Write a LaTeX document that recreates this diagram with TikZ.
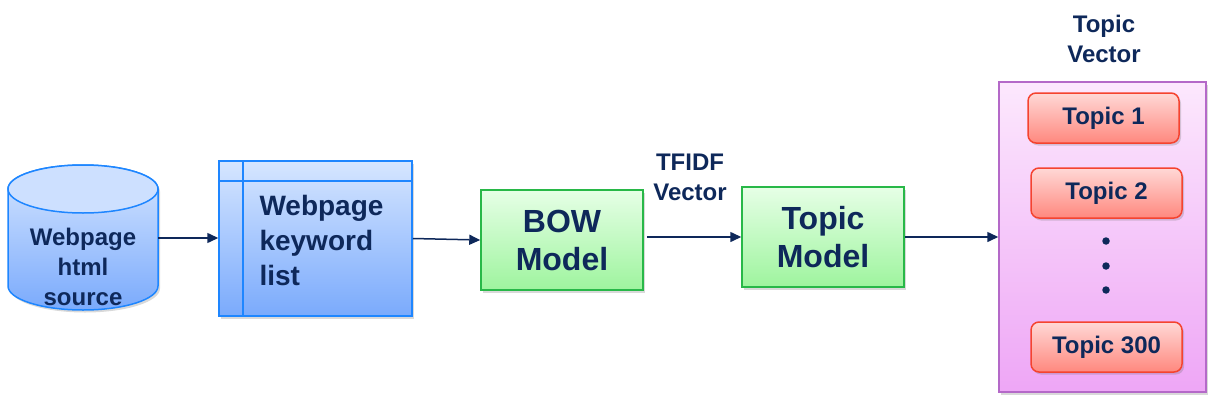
\documentclass[tikz,border=0pt]{standalone}
\usepackage{fontspec}
\setmainfont{Liberation Sans}
\usetikzlibrary{arrows.meta,shadows,calc}
\definecolor{navy}{RGB}{14,40,90}
\definecolor{bluebd}{RGB}{30,134,255}
\definecolor{bluetop}{RGB}{214,230,255}
\definecolor{bluebot}{RGB}{122,170,252}
\definecolor{greenbd}{RGB}{40,184,72}
\definecolor{greentop}{RGB}{230,255,230}
\definecolor{greenbot}{RGB}{158,244,158}
\definecolor{purpbd}{RGB}{180,105,200}
\definecolor{purptop}{RGB}{252,232,253}
\definecolor{purpbot}{RGB}{238,166,246}
\definecolor{redbd}{RGB}{245,67,47}
\definecolor{redtop}{RGB}{255,216,214}
\definecolor{redbot}{RGB}{255,136,126}
\tikzset{
  shad/.style={drop shadow={shadow xshift=2pt,shadow yshift=-2.5pt,opacity=0.25,fill=black!60}},
  txt/.style={text=navy,font=\bfseries\fontsize{24}{30}\selectfont,align=center},
  bluebox/.style={draw=bluebd,line width=1.5pt,top color=bluetop,bottom color=bluebot,shad},
  greenbox/.style={draw=greenbd,line width=1.5pt,top color=greentop,bottom color=greenbot,shad,
     text=navy,font=\bfseries\fontsize{32}{38}\selectfont,align=center},
  purpbox/.style={draw=purpbd,line width=1.5pt,top color=purptop,bottom color=purpbot,shad},
  topicbox/.style={draw=redbd,line width=1.5pt,top color=redtop,bottom color=redbot,rounded corners=8pt,shad,
     minimum width=151pt,minimum height=50pt,inner sep=0pt,text=navy,font=\bfseries\fontsize{24}{30}\selectfont},
  arr/.style={draw=navy,line width=1.5pt,-{Triangle[length=11pt,width=10pt]}},
  dotc/.style={circle,fill=navy,inner sep=0pt,minimum size=7.5pt}
}
\begin{document}
\begin{tikzpicture}[x=1pt,y=-1pt]
\useasboundingbox (0,0) rectangle (1214,404);
% cylinder
\path[bluebox] (8,189) -- (8,286) arc[start angle=180,end angle=0,x radius=75,y radius=24]
   -- (158,189) arc[start angle=0,end angle=-180,x radius=75,y radius=24] -- cycle;
\draw[draw=bluebd,line width=1.5pt,fill=bluetop!90!bluebot] (83,189) ellipse[x radius=75,y radius=24];
\node[minimum width=150pt,minimum height=145pt,inner sep=0pt] (cyl) at (83,238) {};
\node[txt] (cyltext) at (83,267) {Webpage\\html\\source};
% keyword list
\node[bluebox,minimum width=193pt,minimum height=155pt,inner sep=0pt] (kw) at (315.5,238.5) {};
\draw[bluebd,line width=1.5pt] (243,161) -- (243,316);
\draw[bluebd,line width=1.5pt] (219,181) -- (412,181);
\node[text=navy,font=\bfseries\fontsize{28}{35}\selectfont,align=left,anchor=west] (kwtext) at (256,240) {Webpage\\keyword\\list};
% BOW
\node[greenbox,minimum width=162pt,minimum height=100pt,inner sep=0pt] (bow) at (562,240) {BOW\\Model};
% Topic model
\node[greenbox,minimum width=162pt,minimum height=100pt,inner sep=0pt] (tm) at (823,237) {Topic\\Model};
\node[txt] (tfidf) at (690,177) {TFIDF\\Vector};
% Topic vector
\node[purpbox,minimum width=207pt,minimum height=310pt,inner sep=0pt] (vec) at (1102.5,237) {};
\node[txt] (vtitle) at (1104,39) {Topic\\Vector};
\node[topicbox] (t1) at (1103.5,118) {Topic 1};
\node[topicbox] (t2) at (1106.5,193) {Topic 2};
\node[topicbox] (t300) at (1106.5,347) {Topic 300};
\node[dotc] (d1) at (1106,241) {};
\node[dotc] (d2) at (1106,266) {};
\node[dotc] (d3) at (1106,290) {};
% arrows
\draw[arr] (cyl.east) -- (cyl.east -| kw.west);
\draw[arr] (kw.east) -- (bow.west);
\draw[arr] ($(bow.east)+(3,-3)$) -- (tm.west);
\draw[arr] (tm.east) -- (vec.west);
\end{tikzpicture}
\end{document}
